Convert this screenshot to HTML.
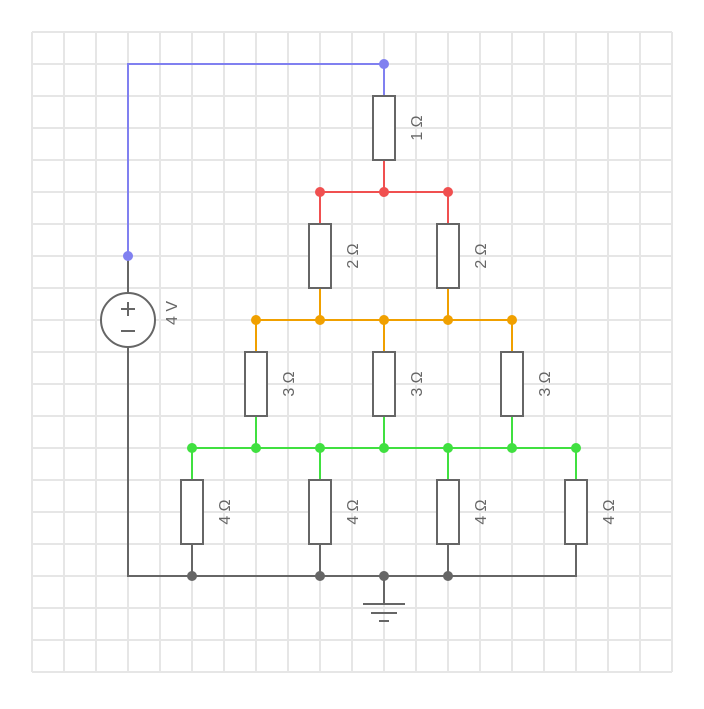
<!DOCTYPE html>
<html><head><style>body{margin:0;background:#fff}</style></head><body>
<svg width="704" height="704" xmlns="http://www.w3.org/2000/svg" font-family="Liberation Sans, sans-serif">
<rect width="704" height="704" fill="#fff"/>
<g stroke="#e6e6e6" stroke-width="2">
<path d="M32 32V672M64 32V672M96 32V672M128 32V672M160 32V672M192 32V672M224 32V672M256 32V672M288 32V672M320 32V672M352 32V672M384 32V672M416 32V672M448 32V672M480 32V672M512 32V672M544 32V672M576 32V672M608 32V672M640 32V672M672 32V672"/>
<path d="M32 32H672M32 64H672M32 96H672M32 128H672M32 160H672M32 192H672M32 224H672M32 256H672M32 288H672M32 320H672M32 352H672M32 384H672M32 416H672M32 448H672M32 480H672M32 512H672M32 544H672M32 576H672M32 608H672M32 640H672M32 672H672"/>
</g>
<g fill="none" stroke-width="2">
<path d="M128 256V64H384V96" stroke="#8080f0"/>
<path d="M384 160V192M320 192H448M320 192V224M448 192V224" stroke="#f05050"/>
<path d="M320 288V320M448 288V320M256 320H512M256 320V352M384 320V352M512 320V352" stroke="#f0a000"/>
<path d="M256 416V448M384 416V448M512 416V448M192 448H576M192 448V480M320 448V480M448 448V480M576 448V480" stroke="#40e040"/>
<path d="M128 256V293M128 347V576H576V544M192 544V576M320 544V576M448 544V576M384 576V604M363 604H405M371 613H397M379 621H389" stroke="#666"/>
</g>
<g fill="#fff" stroke="#666" stroke-width="2">
<rect x="373" y="96" width="22" height="64"/>
<rect x="309" y="224" width="22" height="64"/><rect x="437" y="224" width="22" height="64"/>
<rect x="245" y="352" width="22" height="64"/><rect x="373" y="352" width="22" height="64"/><rect x="501" y="352" width="22" height="64"/>
<rect x="181" y="480" width="22" height="64"/><rect x="309" y="480" width="22" height="64"/><rect x="437" y="480" width="22" height="64"/><rect x="565" y="480" width="22" height="64"/>
<circle cx="128" cy="320" r="27"/>
<path d="M121 309H135M128 302V316M121 331H135"/>
</g>
<g fill="#8080f0"><circle cx="128" cy="256" r="5"/><circle cx="384" cy="64" r="5"/></g>
<g fill="#f05050"><circle cx="320" cy="192" r="5"/><circle cx="384" cy="192" r="5"/><circle cx="448" cy="192" r="5"/></g>
<g fill="#f0a000"><circle cx="256" cy="320" r="5"/><circle cx="320" cy="320" r="5"/><circle cx="384" cy="320" r="5"/><circle cx="448" cy="320" r="5"/><circle cx="512" cy="320" r="5"/></g>
<g fill="#40e040"><circle cx="192" cy="448" r="5"/><circle cx="256" cy="448" r="5"/><circle cx="320" cy="448" r="5"/><circle cx="384" cy="448" r="5"/><circle cx="448" cy="448" r="5"/><circle cx="512" cy="448" r="5"/><circle cx="576" cy="448" r="5"/></g>
<g fill="#666"><circle cx="192" cy="576" r="5"/><circle cx="320" cy="576" r="5"/><circle cx="384" cy="576" r="5"/><circle cx="448" cy="576" r="5"/></g>
<g fill="#666" font-size="16" text-anchor="middle">
<text transform="translate(422 128) rotate(-90)">1 Ω</text>
<text transform="translate(358 256) rotate(-90)">2 Ω</text>
<text transform="translate(486 256) rotate(-90)">2 Ω</text>
<text transform="translate(294 384) rotate(-90)">3 Ω</text>
<text transform="translate(422 384) rotate(-90)">3 Ω</text>
<text transform="translate(550 384) rotate(-90)">3 Ω</text>
<text transform="translate(230 512) rotate(-90)">4 Ω</text>
<text transform="translate(358 512) rotate(-90)">4 Ω</text>
<text transform="translate(486 512) rotate(-90)">4 Ω</text>
<text transform="translate(614 512) rotate(-90)">4 Ω</text>
<text transform="translate(177 313) rotate(-90)">4 V</text>
</g>
</svg>
</body></html>
